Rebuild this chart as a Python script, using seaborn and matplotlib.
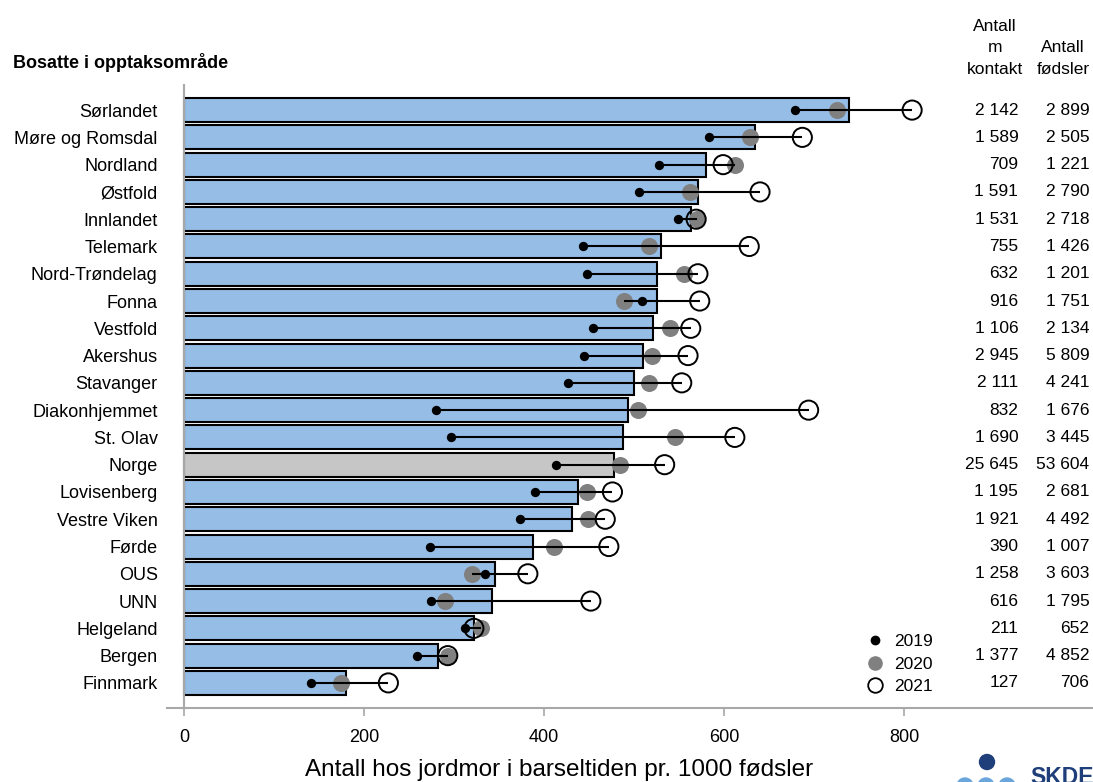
import numpy as np
import pandas as pd
import matplotlib
matplotlib.use("Agg")
import matplotlib.pyplot as plt
from matplotlib.patches import Circle
from matplotlib.lines import Line2D
import seaborn as sns

categories = ["Sørlandet", "Møre og Romsdal", "Nordland", "Østfold", "Innlandet",
              "Telemark", "Nord-Trøndelag", "Fonna", "Vestfold", "Akershus",
              "Stavanger", "Diakonhjemmet", "St. Olav", "Norge", "Lovisenberg",
              "Vestre Viken", "Førde", "OUS", "UNN", "Helgeland", "Bergen", "Finnmark"]
rate_mean = [739, 634, 580, 571, 563, 530, 526, 526, 521, 510, 500, 493, 488, 478,
             438, 431, 388, 346, 342, 322, 282, 180]
rate_2019 = [679, 583, 528, 506, 549, 443, 448, 509, 454, 444, 427, 280, 297, 413,
             390, 373, 273, 334, 274, 312, 259, 141]
rate_2020 = [726, 629, 612, 562, 570, 517, 556, 489, 540, 520, 517, 504, 546, 484,
             448, 449, 411, 320, 290, 330, 293, 174]
rate_2021 = [809, 687, 599, 640, 569, 628, 571, 573, 563, 560, 553, 694, 612, 534,
             476, 468, 472, 382, 452, 322, 293, 227]
n_contact = ["2 142", "1 589", "709", "1 591", "1 531", "755", "632", "916", "1 106",
             "2 945", "2 111", "832", "1 690", "25 645", "1 195", "1 921", "390",
             "1 258", "616", "211", "1 377", "127"]
n_births = ["2 899", "2 505", "1 221", "2 790", "2 718", "1 426", "1 201", "1 751",
            "2 134", "5 809", "4 241", "1 676", "3 445", "53 604", "2 681", "4 492",
            "1 007", "3 603", "1 795", "652", "4 852", "706"]

BLUE = "#95BDE6"
GREY_BAR = "#C6C6C6"
GREY_DOT = "#808080"

df = pd.DataFrame({"omr": categories, "mean": rate_mean, "y2019": rate_2019,
                   "y2020": rate_2020, "y2021": rate_2021})
df["pos"] = np.arange(len(df))
df["lo"] = df[["y2019", "y2020", "y2021"]].min(axis=1)
df["hi"] = df[["y2019", "y2020", "y2021"]].max(axis=1)

sns.set_theme(style="white")
plt.rcParams["font.family"] = ["Liberation Sans", "DejaVu Sans"]
plt.rcParams["text.color"] = "black"
plt.rcParams["axes.labelcolor"] = "black"
plt.rcParams["xtick.labelcolor"] = "black"
plt.rcParams["ytick.labelcolor"] = "black"

fig = plt.figure(figsize=(10.93, 7.82), dpi=100)
ax = fig.add_axes([167 / 1093, 1 - 708 / 782, 1 - 167 / 1093, (708 - 85) / 782])

palette = {c: (GREY_BAR if c == "Norge" else BLUE) for c in categories}
sns.barplot(data=df, x="mean", y="omr", hue="omr", palette=palette, legend=False,
            orient="h", width=0.88, edgecolor="black", linewidth=1.5,
            saturation=1, ax=ax)

sns.scatterplot(data=df, x="y2020", y="pos", color=GREY_DOT, s=150, linewidth=0,
                ax=ax, zorder=4)
ax.hlines(df["pos"], df["lo"], df["hi"], color="black", linewidth=1.5, zorder=5)
sns.scatterplot(data=df, x="y2019", y="pos", color="black", s=45, linewidth=0,
                ax=ax, zorder=6)
sns.scatterplot(data=df, x="y2021", y="pos", facecolor="none", edgecolor="black",
                s=190, linewidth=1.4, ax=ax, zorder=7)

ax.set_xlim(-19, 1010)
ax.set_ylim(len(df) - 1 + 0.92, -0.92)
ax.set_xticks([0, 200, 400, 600, 800])
ax.set_xticklabels(["0", "200", "400", "600", "800"])
ax.set_yticks(df["pos"])
ax.set_yticklabels(categories)
ax.tick_params(axis="x", length=6, width=1.2, color="#A8A8A8", pad=9,
               labelsize=13, bottom=True)
ax.tick_params(axis="y", length=0, pad=19, labelsize=13)
ax.set_xlabel("Antall hos jordmor i barseltiden pr. 1000 fødsler", fontsize=17.5)
ax.xaxis.set_label_coords((559 - 167) / (1093 - 167), -(770 - 708) / (708 - 85))
ax.xaxis.label.set_va("center")
ax.set_ylabel("")

for s in ["top", "right"]:
    ax.spines[s].set_visible(False)
ax.spines["left"].set_position(("data", 0))
for s in ["left", "bottom"]:
    ax.spines[s].set_color("#A8A8A8")
    ax.spines[s].set_linewidth(1.5)

# table columns
for p, a, b in zip(df["pos"], n_contact, n_births):
    ax.text(927, p, a, ha="right", va="center", fontsize=12.5)
    ax.text(1006, p, b, ha="right", va="center", fontsize=12.5)

fig.text(995 / 1093, 1 - 77 / 782, "Antall\nm\nkontakt", ha="center", va="bottom",
         fontsize=12.5, linespacing=1.55)
fig.text(1063 / 1093, 1 - 77 / 782, "Antall\nfødsler", ha="center", va="bottom",
         fontsize=12.5, linespacing=1.55)
fig.text(13 / 1093, 1 - 63 / 782, "Bosatte i opptaksområde", ha="left", va="center",
         fontsize=13, fontweight="bold")

handles = [
    Line2D([], [], marker="o", linestyle="none", color="black", markersize=6),
    Line2D([], [], marker="o", linestyle="none", color=GREY_DOT, markersize=9.5),
    Line2D([], [], marker="o", linestyle="none", markerfacecolor="none",
           markeredgecolor="black", markeredgewidth=1.3, markersize=10.5),
]
ax.legend(handles, ["2019", "2020", "2021"], loc="center left",
          bbox_to_anchor=(862 / 1093, 1 - 664 / 782), bbox_transform=fig.transFigure,
          frameon=False, fontsize=12.5, handletextpad=0.35, labelspacing=0.4,
          borderpad=0, borderaxespad=0, handlelength=1.5)

# logo
NAVY = "#1F3F7A"
LBLUE = "#6AA6DC"
fig.patches.append(Circle((987, 782 - 762), 7.5, transform=None, color=NAVY, figure=fig))
for cx in [965, 986, 1007]:
    fig.patches.append(Circle((cx, 782 - 786), 8, transform=None, color=LBLUE, figure=fig))
fig.text(1030 / 1093, 1 - 766 / 782, "SKDE", ha="left", va="top", fontsize=16.5,
         fontweight="bold", color=NAVY)

fig.savefig("out.png", dpi=100)
